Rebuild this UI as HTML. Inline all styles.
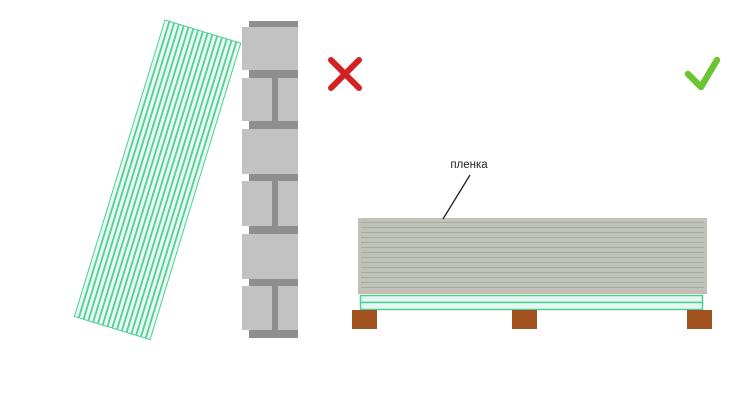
<!DOCTYPE html>
<html><head><meta charset="utf-8"><style>
html,body{margin:0;padding:0;background:#fff;}
svg{display:block}
</style></head><body>
<svg width="750" height="417" viewBox="0 0 750 417" xmlns="http://www.w3.org/2000/svg">
<rect width="750" height="417" fill="#fff"/>
<!-- wall -->
<g>
<rect x="249" y="21" width="49" height="6" fill="#8e8e8e"/>
<rect x="242" y="27" width="56" height="43" fill="#c2c2c2"/>
<rect x="249" y="70" width="49" height="8" fill="#8e8e8e"/>
<rect x="242" y="78" width="30" height="43" fill="#c2c2c2"/>
<rect x="272" y="78" width="6" height="43" fill="#8e8e8e"/>
<rect x="278" y="78" width="20" height="43" fill="#c2c2c2"/>
<rect x="249" y="121" width="49" height="8" fill="#8e8e8e"/>
<rect x="242" y="129" width="56" height="45" fill="#c2c2c2"/>
<rect x="249" y="174" width="49" height="7" fill="#8e8e8e"/>
<rect x="242" y="181" width="30" height="45" fill="#c2c2c2"/>
<rect x="272" y="181" width="6" height="45" fill="#8e8e8e"/>
<rect x="278" y="181" width="20" height="45" fill="#c2c2c2"/>
<rect x="249" y="226" width="49" height="8" fill="#8e8e8e"/>
<rect x="242" y="234" width="56" height="45" fill="#c2c2c2"/>
<rect x="249" y="279" width="49" height="7" fill="#8e8e8e"/>
<rect x="242" y="286" width="30" height="44" fill="#c2c2c2"/>
<rect x="272" y="286" width="6" height="44" fill="#8e8e8e"/>
<rect x="278" y="286" width="20" height="44" fill="#c2c2c2"/>
<rect x="249" y="330" width="49" height="8" fill="#8e8e8e"/>
</g>
<!-- leaning sheets -->
<g transform="translate(165,20) rotate(17)" fill="#eaf8f1" stroke="#4fcf98" stroke-width="1">
<rect x="0" y="0" width="4.2" height="310"/>
<rect x="5" y="0" width="4.2" height="310"/>
<rect x="10" y="0" width="4.2" height="310"/>
<rect x="15" y="0" width="4.2" height="310"/>
<rect x="20" y="0" width="4.2" height="310"/>
<rect x="25" y="0" width="4.2" height="310"/>
<rect x="30" y="0" width="4.2" height="310"/>
<rect x="35" y="0" width="4.2" height="310"/>
<rect x="40" y="0" width="4.2" height="310"/>
<rect x="45" y="0" width="4.2" height="310"/>
<rect x="50" y="0" width="4.2" height="310"/>
<rect x="55" y="0" width="4.2" height="310"/>
<rect x="60" y="0" width="4.2" height="310"/>
<rect x="65" y="0" width="4.2" height="310"/>
<rect x="70" y="0" width="4.2" height="310"/>
<rect x="75" y="0" width="4.2" height="310"/>
</g>
<!-- red X -->
<g stroke="#d42020" stroke-width="6" stroke-linecap="round">
<line x1="331" y1="60" x2="359" y2="88"/>
<line x1="359" y1="60" x2="331" y2="88"/>
</g>
<!-- green check -->
<polyline points="688,74 701,87 717,60" fill="none" stroke="#6cc530" stroke-width="6.5" stroke-linecap="round" stroke-linejoin="round"/>
<!-- stack -->
<rect x="358" y="218" width="349" height="76" fill="#bfc3b9"/>
<g stroke="#a7ab9f" stroke-width="1">
<line x1="361" y1="222.5" x2="704" y2="222.5"/>
<line x1="361" y1="227.5" x2="704" y2="227.5"/>
<line x1="361" y1="232.5" x2="704" y2="232.5"/>
<line x1="361" y1="237.5" x2="704" y2="237.5"/>
<line x1="361" y1="242.5" x2="704" y2="242.5"/>
<line x1="361" y1="247.5" x2="704" y2="247.5"/>
<line x1="361" y1="252.5" x2="704" y2="252.5"/>
<line x1="361" y1="257.5" x2="704" y2="257.5"/>
<line x1="361" y1="262.5" x2="704" y2="262.5"/>
<line x1="361" y1="267.5" x2="704" y2="267.5"/>
<line x1="361" y1="272.5" x2="704" y2="272.5"/>
<line x1="361" y1="277.5" x2="704" y2="277.5"/>
<line x1="361" y1="282.5" x2="704" y2="282.5"/>
<line x1="361" y1="287.5" x2="704" y2="287.5"/>
</g>
<rect x="358" y="290" width="349" height="4" fill="#c9b9b3"/>
<rect x="360.5" y="295.5" width="342" height="7" fill="#e6f7f1" stroke="#4fcf98" stroke-width="1.5"/>
<rect x="360.5" y="302.5" width="342" height="7" fill="#e6f7f1" stroke="#4fcf98" stroke-width="1.5"/>
<!-- supports -->
<rect x="352" y="310" width="25" height="19" fill="#a0521f"/>
<rect x="512" y="310" width="25" height="19" fill="#a0521f"/>
<rect x="687" y="310" width="25" height="19" fill="#a0521f"/>
<!-- label -->
<line x1="470" y1="175" x2="443" y2="219" stroke="#222" stroke-width="1.3"/>
<text x="469" y="168" text-anchor="middle" font-family="Liberation Sans, sans-serif" font-size="11.5" fill="#222">пленка</text>
</svg>
</body></html>
